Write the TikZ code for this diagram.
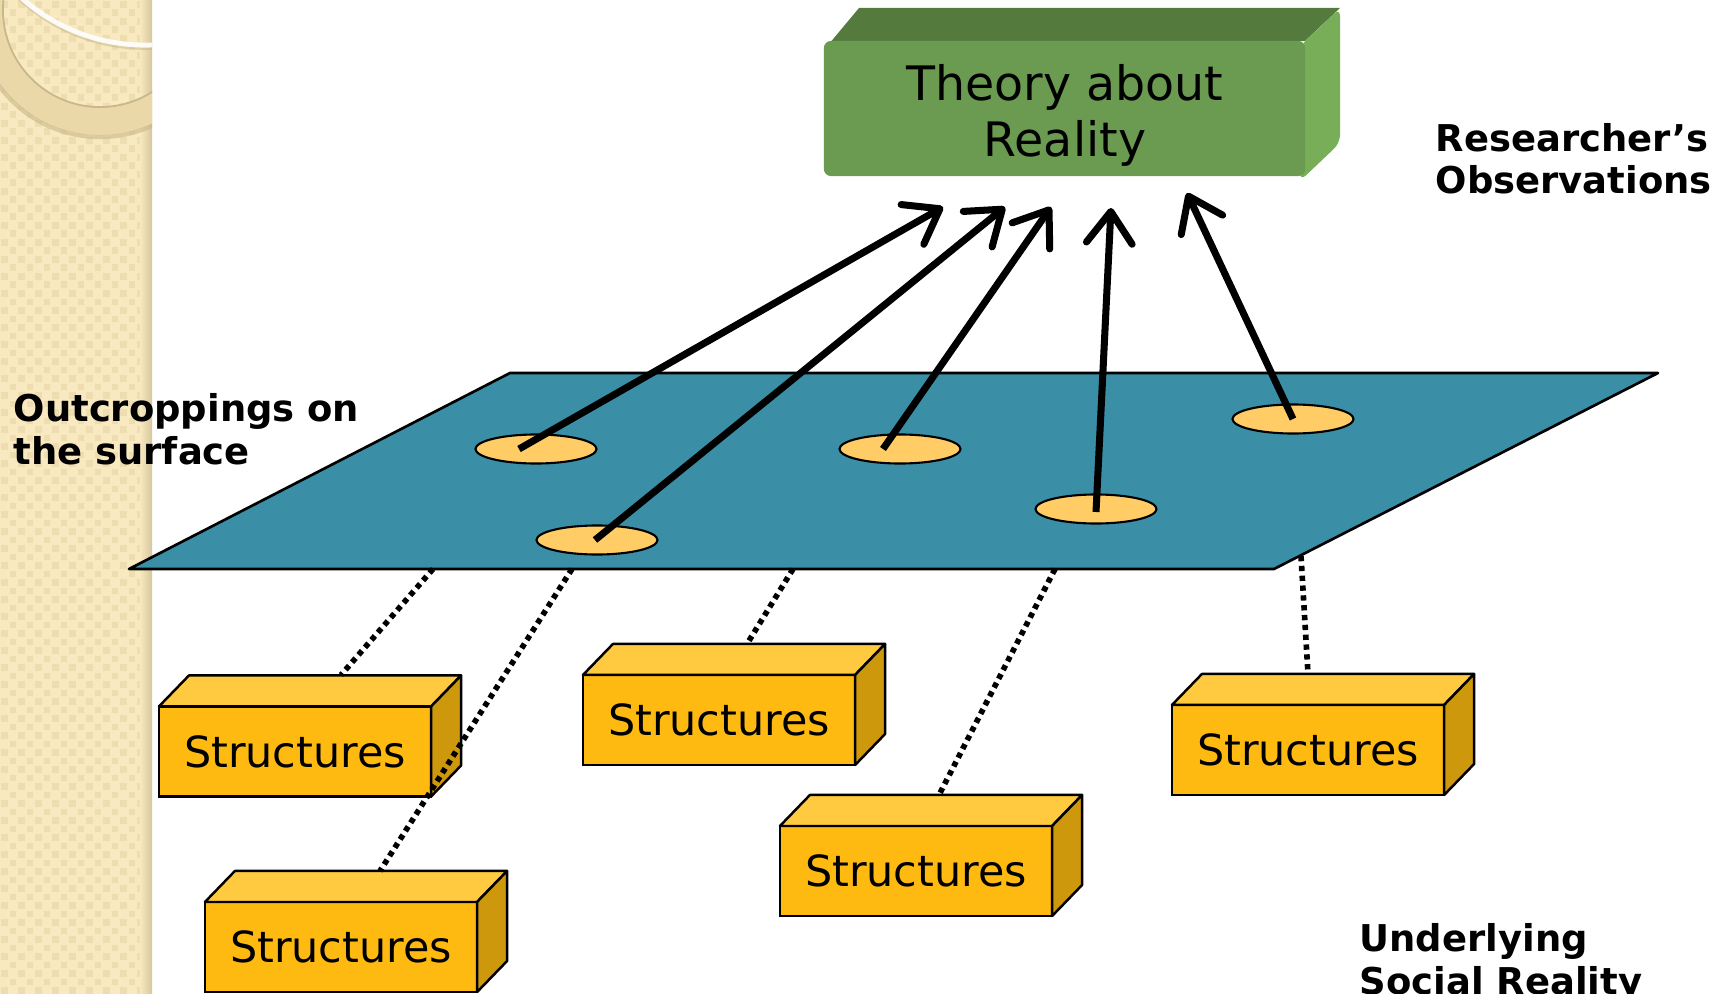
\documentclass[tikz,border=0pt]{standalone}
\usepackage{fontspec}
\setmainfont{DejaVu Sans}
\usetikzlibrary{arrows.meta,shapes.geometric,calc}

\definecolor{plane}{RGB}{58,143,166}
\definecolor{hole}{RGB}{255,204,102}
\definecolor{boxfront}{RGB}{255,186,18}
\definecolor{boxtop}{RGB}{255,202,64}
\definecolor{boxside}{RGB}{206,152,12}
\definecolor{thfront}{RGB}{107,155,81}
\definecolor{thtop}{RGB}{84,122,62}
\definecolor{thside}{RGB}{121,174,89}
\definecolor{strip}{RGB}{248,233,192}
\definecolor{stripdark}{RGB}{238,221,176}
\definecolor{stripedge}{RGB}{214,198,156}
\definecolor{ring}{RGB}{234,216,168}
\definecolor{ringline}{RGB}{200,183,136}

\begin{document}
\begin{tikzpicture}[x=0.01cm,y=-0.01cm,
  struct/.style={draw=black,line width=0.7pt,fill=boxfront,minimum width=2.72cm,
    minimum height=0.9cm,inner sep=0pt,outer sep=0pt,font=\fontsize{12.2}{14}\selectfont},
  sttop/.style={fill=boxtop,draw=black,line width=0.7pt,line join=round},
  stside/.style={fill=boxside,draw=black,line width=0.7pt,line join=round},
  thbox/.style={fill=thfront,rounded corners=0.07cm,minimum width=4.81cm,
    minimum height=1.35cm,inner sep=0pt,outer sep=0pt},
  thtext/.style={align=center,inner sep=0pt,anchor=base,font=\fontsize{13.5}{16}\selectfont},
  outc/.style={ellipse,draw=black,line width=0.6pt,fill=hole,minimum width=1.21cm,
    minimum height=0.29cm,inner sep=0pt},
  obs/.style={line width=2pt,-{Straight Barb[length=9pt,width=13pt,round]}},
  link/.style={line width=1.6pt,dash pattern=on 1.5pt off 1.3pt},
  lbl/.style={font=\fontsize{10.5}{12}\selectfont\bfseries,align=left,inner sep=0pt,anchor=base west}
]
\useasboundingbox (0,0) rectangle (1727,994);
\clip (0,0) rectangle (1727,994);
\fill[white] (0,0) rectangle (1727,994);

% textured side strip
\fill[strip] (0,0) rectangle (152,994);
\foreach \i in {0,...,17}{
  \foreach \j in {0,...,58}{
    \fill[stripdark] ({\i*8.5+1},{(2*\j+mod(\i,2))*8.5+1}) rectangle ++(0.065cm,-0.065cm);
  }
}
\shade[left color=strip,right color=stripedge] (140,0) rectangle (152,994);

% decorative rings in the corner
\begin{scope}
  \clip (0,0) rectangle (152,994);
  \fill[ring,even odd rule] (100,10) circle[radius=1.25cm] (100,10) circle[radius=0.97cm];
  \draw[ringline,line width=0.5pt] (100,10) circle[radius=0.97cm];
  \draw[ringline,opacity=0.6,line width=1.2pt] (100,12) circle[radius=1.25cm];
  \draw[ringline,opacity=0.5,line width=1pt] (145,-137) circle[radius=1.85cm];
  \draw[white,opacity=0.9,line width=1.4pt] (145,-140) circle[radius=1.85cm];
\end{scope}

% theory block
\fill[thtop] (824,50) -- (859,8) -- (1340,8) -- (1305,41) -- cycle;
\fill[thside,rounded corners=0.08cm] (1300,46) -- (1340,8) -- (1340,143) -- (1300,181) -- cycle;
\node[thbox] (th) at (1064.5,108.5) {};
\node[thtext] (tht) at (1065,157) {Theory about\\Reality};

% surface plane
\filldraw[fill=plane,draw=black,line width=0.75pt,line join=round]
  (129,569) -- (510,373) -- (1658,373) -- (1274,569) -- cycle;

% outcroppings
\node[outc] (o1) at (536,449) {};
\node[outc] (o2) at (597,540) {};
\node[outc] (o3) at (900,449) {};
\node[outc] (o4) at (1096,509) {};
\node[outc] (o5) at (1293,419) {};

% underlying structures
\node[struct] (s1) at (295,751.5) {Structures};
\node[struct] (s2) at (341,947) {Structures};
\node[struct] (s3) at (719,720) {Structures};
\node[struct] (s4) at (916,871) {Structures};
\node[struct] (s5) at (1308,750) {Structures};
\foreach \s in {s1,s2,s3,s4,s5}{
  \filldraw[sttop] (\s.north west) -- ++(0.3cm,0.31cm)
    -- ($(\s.north east)+(0.3cm,0.31cm)$) -- (\s.north east) -- cycle;
  \filldraw[stside] (\s.north east) -- ++(0.3cm,0.31cm)
    -- ($(\s.south east)+(0.3cm,0.31cm)$) -- (\s.south east) -- cycle;
}

% dotted links from the surface down to the structures
\coordinate (p1) at (433,569);  \coordinate (q1) at (341,675);
\coordinate (p2) at (572,569);  \coordinate (q2) at (380,871);
\coordinate (p3) at (793,569);  \coordinate (q3) at (747,644);
\coordinate (p4) at (1055,569); \coordinate (q4) at (939,795);
\coordinate (p5) at (1301,556); \coordinate (q5) at (1308,674);
\foreach \k in {1,...,5}{\draw[link] (p\k) -- (q\k);}

% observation arrows up to the theory
\coordinate (t1) at (943,207);
\coordinate (t2) at (1005,207);
\coordinate (t3) at (1051,207);
\coordinate (t4) at (1111,208);
\coordinate (t5) at (1187,193);
\draw[obs] ([xshift=-0.17cm]o1.center) -- (t1);
\draw[obs] ([xshift=-0.02cm]o2.center) -- (t2);
\draw[obs] ([xshift=-0.17cm]o3.center) -- (t3);
\draw[obs] ([yshift=-0.03cm]o4.center) -- (t4);
\draw[obs] (o5.center) -- (t5);

% labels
\node[lbl] (lout) at (13,464) {Outcroppings on\\the surface};
\node[lbl] (lobs) at (1435,194) {Researcher’s\\Observations};
\node[lbl] (lreal) at (1359,994) {Underlying\\Social Reality};
\end{tikzpicture}
\end{document}
